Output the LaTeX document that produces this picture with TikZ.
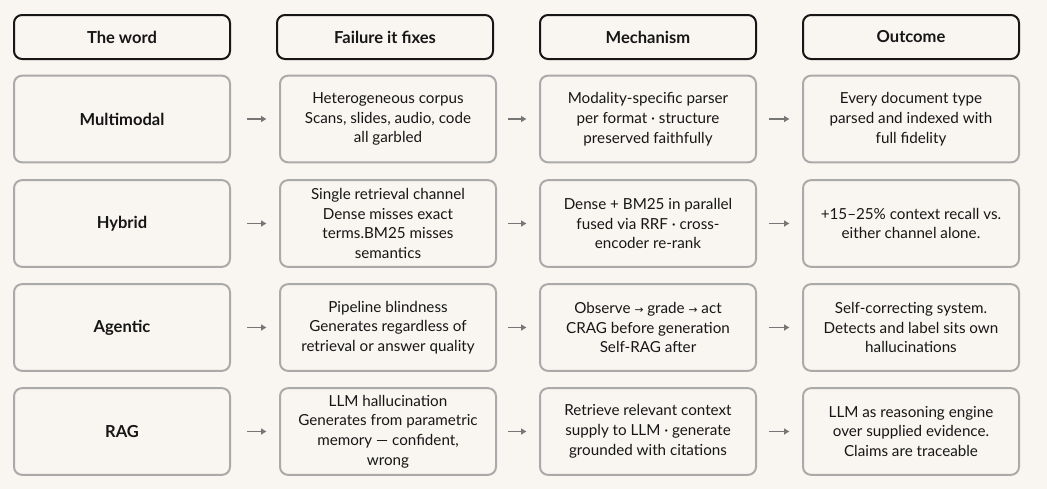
\documentclass[tikz,border=0pt]{standalone}
\usepackage{fontspec}
\setmainfont{Lato}
\newfontfamily\symfont{DejaVu Sans}
\usetikzlibrary{arrows.meta, positioning}
\definecolor{paperbg}{RGB}{249,246,241}
\definecolor{cellgray}{RGB}{170,170,170}
\definecolor{headink}{RGB}{22,22,22}
\definecolor{arrowgray}{RGB}{118,118,118}
\newcommand{\sarr}{{\symfont\footnotesize →}}
\tikzset{
  cell/.style={draw=cellgray, line width=1.5pt, rounded corners=6pt, fill=paperbg,
    minimum width=162pt, minimum height=65pt, align=center, text=headink,
    font=\fontsize{11.4}{14.8}\selectfont},
  headcell/.style={cell, draw=headink, minimum height=33pt, font=\bfseries\fontsize{12.4}{15}\selectfont},
  wordcell/.style={cell, font=\bfseries\fontsize{12.4}{15}\selectfont},
  flow/.style={-{Triangle[length=4pt,width=4.5pt]}, arrowgray, line width=1.1pt, shorten >=9.5pt}
}
\begin{document}
\begin{tikzpicture}[x=0.75pt, y=-0.75pt]
  \useasboundingbox[fill=paperbg] (0,0) rectangle (1047,489);
  % column headers
  \node[headcell] (head1) at (122,37) {The word};
  \node[headcell] (head2) at (385,37) {Failure it fixes};
  \node[headcell] (head3) at (648,37) {Mechanism};
  \node[headcell] (head4) at (911,37) {Outcome};
  % row 1
  \node[wordcell] (word1) at (122,119) {Multimodal};
  \node[cell] (fail1) at (388,119) {Heterogeneous corpus\\Scans, slides, audio, code\\all garbled};
  \node[cell] (mech1) at (648,119) {Modality-specific parser\\per format · structure\\preserved faithfully};
  \node[cell] (out1) at (911,119) {Every document type\\parsed and indexed with\\full fidelity};
  % row 2
  \node[wordcell] (word2) at (122,223.5) {Hybrid};
  \node[cell] (fail2) at (388,223.5) {Single retrieval channel\\Dense misses exact\\terms.BM25 misses\\semantics};
  \node[cell] (mech2) at (648,223.5) {Dense + BM25 in parallel\\fused via RRF · cross-\\encoder re-rank};
  \node[cell] (out2) at (911,223.5) {+15–25\% context recall vs.\\either channel alone.};
  % row 3
  \node[wordcell] (word3) at (122,327.5) {Agentic};
  \node[cell] (fail3) at (388,327.5) {Pipeline blindness\\Generates regardless of\\retrieval or answer quality};
  \node[cell] (mech3) at (648,327.5) {Observe \sarr{} grade \sarr{} act\\CRAG before generation\\Self-RAG after};
  \node[cell] (out3) at (911,327.5) {Self-correcting system.\\Detects and label sits own\\hallucinations};
  % row 4
  \node[wordcell] (word4) at (122,431.5) {RAG};
  \node[cell] (fail4) at (388,431.5) {LLM hallucination\\Generates from parametric\\memory — confident,\\wrong};
  \node[cell] (mech4) at (648,431.5) {Retrieve relevant context\\supply to LLM · generate\\grounded with citations};
  \node[cell] (out4) at (911,431.5) {LLM as reasoning engine\\over supplied evidence.\\Claims are traceable};
  % arrows between columns
  \foreach \r in {1,...,4} {
    \draw[flow, shorten <=12pt] (word\r) -- (fail\r);
    \draw[flow, shorten <=8.25pt] (fail\r) -- (mech\r);
    \draw[flow, shorten <=9pt] (mech\r) -- (out\r);
  }
\end{tikzpicture}
\end{document}
